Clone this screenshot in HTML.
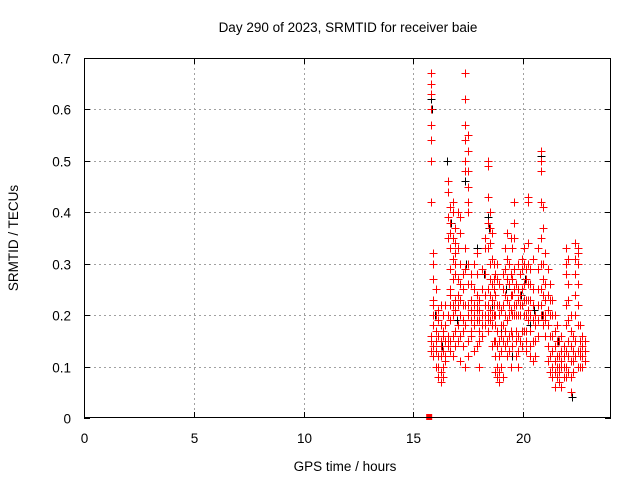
<!DOCTYPE html>
<html><head><meta charset="utf-8"><style>
body{margin:0;background:#fff}
svg{display:block;font-family:"Liberation Sans",sans-serif}
#marks path{shape-rendering:crispEdges}
#axes line,#grid line{shape-rendering:crispEdges}
</style></head><body>
<svg id="c" width="640" height="480">
<text x="348" y="32" font-size="13.5" text-anchor="middle">Day 290 of 2023, SRMTID for receiver baie</text>
<text x="345" y="471" font-size="13.5" text-anchor="middle">GPS time / hours</text>
<text transform="translate(18,238) rotate(-90)" font-size="13.5" text-anchor="middle">SRMTID / TECUs</text>
<g id="grid"></g><g id="marks"></g><g id="axes"></g>
</svg>
<script>
const xTicks=[0,5,10,15,20];
const yTicks=[0,0.1,0.2,0.3,0.4,0.5,0.6,0.7];
const yTickLabels=["0","0.1","0.2","0.3","0.4","0.5","0.6","0.7"];
const redTimes=[15.8,15.91,16.02,16.13,16.24,16.35,16.46,16.57,16.68,16.8,16.91,17.02,17.13,17.24,17.35,17.48,17.61,17.74,17.88,18.0,18.14,18.27,18.4,18.49,18.57,18.66,18.74,18.83,18.91,19.0,19.09,19.17,19.26,19.34,19.43,19.51,19.6,19.69,19.77,19.86,19.94,20.03,20.11,20.2,20.32,20.44,20.56,20.68,20.8,20.9,21.01,21.11,21.22,21.32,21.43,21.53,21.64,21.74,21.85,21.95,22.06,22.16,22.27,22.37,22.48,22.59,22.69,22.8];
const redVals=[
[0.67,0.65,0.63,0.6,0.57,0.54,0.5,0.42,0.16,0.15,0.13],
[0.3,0.32,0.27,0.22,0.18,0.12,0.14,0.2,0.23],
[0.25,0.2,0.15,0.1,0.17,0.13],
[0.19,0.16,0.12,0.1,0.08,0.21],
[0.15,0.12,0.09,0.07,0.18,0.22,0.14],
[0.1,0.13,0.17,0.2,0.08,0.16],
[0.18,0.22,0.12,0.15,0.11],
[0.46,0.44,0.39,0.35,0.2,0.15,0.16,0.14],
[0.41,0.38,0.36,0.33,0.29,0.25,0.24,0.22,0.19,0.15,0.13],
[0.42,0.4,0.35,0.31,0.27,0.22,0.2,0.16,0.12],
[0.37,0.34,0.32,0.3,0.28,0.23,0.21,0.17,0.14],
[0.4,0.33,0.27,0.24,0.22,0.18,0.15],
[0.39,0.36,0.3,0.26,0.23,0.2,0.16,0.11],
[0.28,0.25,0.22,0.19,0.17,0.14],
[0.67,0.62,0.57,0.54,0.5,0.48,0.33,0.29,0.22,0.18,0.1],
[0.55,0.52,0.48,0.45,0.42,0.4,0.3,0.26,0.22,0.2,0.15,0.12],
[0.28,0.26,0.23,0.21,0.19,0.17,0.16],
[0.3,0.25,0.22,0.2,0.18,0.13],
[0.32,0.28,0.24,0.22,0.21,0.19,0.14],
[0.23,0.21,0.19,0.17,0.15,0.1],
[0.29,0.25,0.2,0.18,0.16],
[0.35,0.33,0.28,0.24,0.22,0.2,0.18],
[0.5,0.49,0.43,0.38,0.33,0.25,0.22,0.2,0.19,0.17],
[0.4,0.37,0.34,0.3,0.27,0.24,0.21,0.19],
[0.36,0.31,0.26,0.23,0.2,0.18,0.14],
[0.3,0.27,0.25,0.22,0.2,0.15],
[0.28,0.24,0.2,0.18,0.15,0.12,0.09],
[0.3,0.27,0.22,0.17,0.14,0.1,0.08],
[0.26,0.22,0.2,0.15,0.12,0.09,0.07],
[0.21,0.18,0.16,0.13,0.1],
[0.28,0.25,0.22,0.18,0.15,0.08],
[0.33,0.29,0.24,0.2,0.17,0.14],
[0.36,0.31,0.27,0.23,0.19,0.15,0.12],
[0.3,0.26,0.22,0.2,0.16,0.13],
[0.35,0.28,0.24,0.21,0.17,0.1],
[0.33,0.27,0.24,0.2,0.16,0.14],
[0.42,0.38,0.35,0.29,0.25,0.22,0.2],
[0.26,0.22,0.2,0.17,0.15,0.12],
[0.3,0.25,0.23,0.2,0.16,0.13,0.1],
[0.28,0.24,0.22,0.2,0.15],
[0.31,0.29,0.25,0.22,0.17,0.14],
[0.33,0.3,0.26,0.23,0.2,0.17],
[0.29,0.27,0.23,0.2,0.17,0.15,0.13],
[0.43,0.42,0.34,0.3,0.26,0.23,0.21,0.19],
[0.29,0.26,0.23,0.2,0.17,0.14,0.12],
[0.31,0.25,0.22,0.19,0.15,0.11],
[0.2,0.18,0.15,0.12],
[0.33,0.29,0.25,0.22,0.19,0.16],
[0.52,0.5,0.48,0.42,0.35,0.3,0.25,0.22,0.2],
[0.41,0.37,0.3,0.27,0.24,0.2,0.18],
[0.32,0.26,0.23,0.2,0.19,0.16],
[0.29,0.24,0.21,0.18,0.14,0.11],
[0.26,0.23,0.2,0.16,0.12,0.09],
[0.23,0.2,0.16,0.13,0.1,0.08],
[0.2,0.17,0.14,0.11,0.09,0.06],
[0.18,0.15,0.12,0.1,0.08],
[0.15,0.12,0.1,0.09,0.07],
[0.16,0.13,0.11,0.1,0.06],
[0.14,0.12,0.1,0.08],
[0.33,0.3,0.28,0.22,0.18,0.13,0.1,0.08],
[0.31,0.26,0.23,0.19,0.15,0.12,0.09],
[0.2,0.17,0.14,0.11,0.08,0.05],
[0.16,0.13,0.11,0.09],
[0.34,0.31,0.28,0.24,0.2,0.15,0.12],
[0.33,0.32,0.3,0.26,0.22,0.18,0.13,0.1],
[0.18,0.15,0.13,0.12,0.1],
[0.16,0.14,0.12,0.1],
[0.15,0.13,0.11]];
const blackTimes=[15.82,15.85,15.88,16.0,16.55,16.7,17.35,17.4,17.9,18.4,18.45,18.6,19.2,19.5,19.9,20.1,20.3,20.8,20.82,20.85,21.3,21.6,22.2,22.22,22.5,16.3,17.0,18.2,19.0,20.5];
const blackVals=[0.62,0.6,0.3,0.2,0.5,0.38,0.46,0.3,0.33,0.39,0.37,0.22,0.25,0.12,0.24,0.27,0.18,0.52,0.51,0.2,0.23,0.15,0.05,0.04,0.26,0.14,0.19,0.28,0.17,0.21];
const squareT=[15.72];const squareV=[0];
const L=84,R=611,T=58,B=418,XMAX=24,YMAX=0.7;
const xs=t=>L+(R-L)*t/XMAX, ys=v=>B-(B-T)*v/YMAX;
const NS="http://www.w3.org/2000/svg";
function mk(tag,at,parent){const e=document.createElementNS(NS,tag);for(const k in at)e.setAttribute(k,at[k]);parent.appendChild(e);return e;}
const grid=document.getElementById('grid'),marks=document.getElementById('marks'),axes=document.getElementById('axes');
xTicks.forEach((t,i)=>{const x=Math.round(xs(t))+0.5;
 if(t>0){const g=mk('line',{x1:x,x2:x,y1:T,y2:B,stroke:'#a0a0a0','stroke-dasharray':'2,3'},grid);
 
 }
 mk('line',{x1:x,x2:x,y1:B,y2:B-6,stroke:'#000'},axes);mk('line',{x1:x,x2:x,y1:T,y2:T+6,stroke:'#000'},axes);
 const tx=mk('text',{x:x,y:B+25,'font-size':13.5,'text-anchor':'middle'},axes);tx.textContent=t;
 
 });
yTicks.forEach((v,i)=>{const y=Math.round(ys(v))+0.5;
 if(v>0&&v<0.7){const g=mk('line',{x1:L,x2:R,y1:y,y2:y,stroke:'#a0a0a0','stroke-dasharray':'2,3'},grid);
 
 }
 mk('line',{x1:L,x2:L+6,y1:y,y2:y,stroke:'#000'},axes);mk('line',{x1:R,x2:R-6,y1:y,y2:y,stroke:'#000'},axes);
 const tx=mk('text',{x:L-13,y:y+5,'font-size':13.5,'text-anchor':'end'},axes);tx.textContent=yTickLabels[i];
 
 });
const frame=mk('rect',{x:L+0.5,y:T+0.5,width:R-L-1,height:B-T-1,fill:'none',stroke:'#000','shape-rendering':'crispEdges'},axes);


function plus(t,v,col){const x=Math.round(xs(t))+0.5,y=Math.round(ys(v))+0.5;
 const p=mk('path',{d:`M${x-4} ${y}H${x+4}M${x} ${y-4}V${y+4}`,stroke:col,'stroke-width':1,fill:'none'},marks);return p;}
blackTimes.forEach((t,i)=>{const p=plus(t,blackVals[i],'#000000');
 
 });
redTimes.forEach((t,i)=>redVals[i].forEach(v=>{const p=plus(t,v,'#ff0000');
 
 }));
squareT.forEach((t,i)=>{const s=mk('rect',{x:xs(t)-3,y:ys(squareV[i])-4,width:6,height:6,fill:'#ff0000'},marks);
 
 });
</script>
</body></html>
